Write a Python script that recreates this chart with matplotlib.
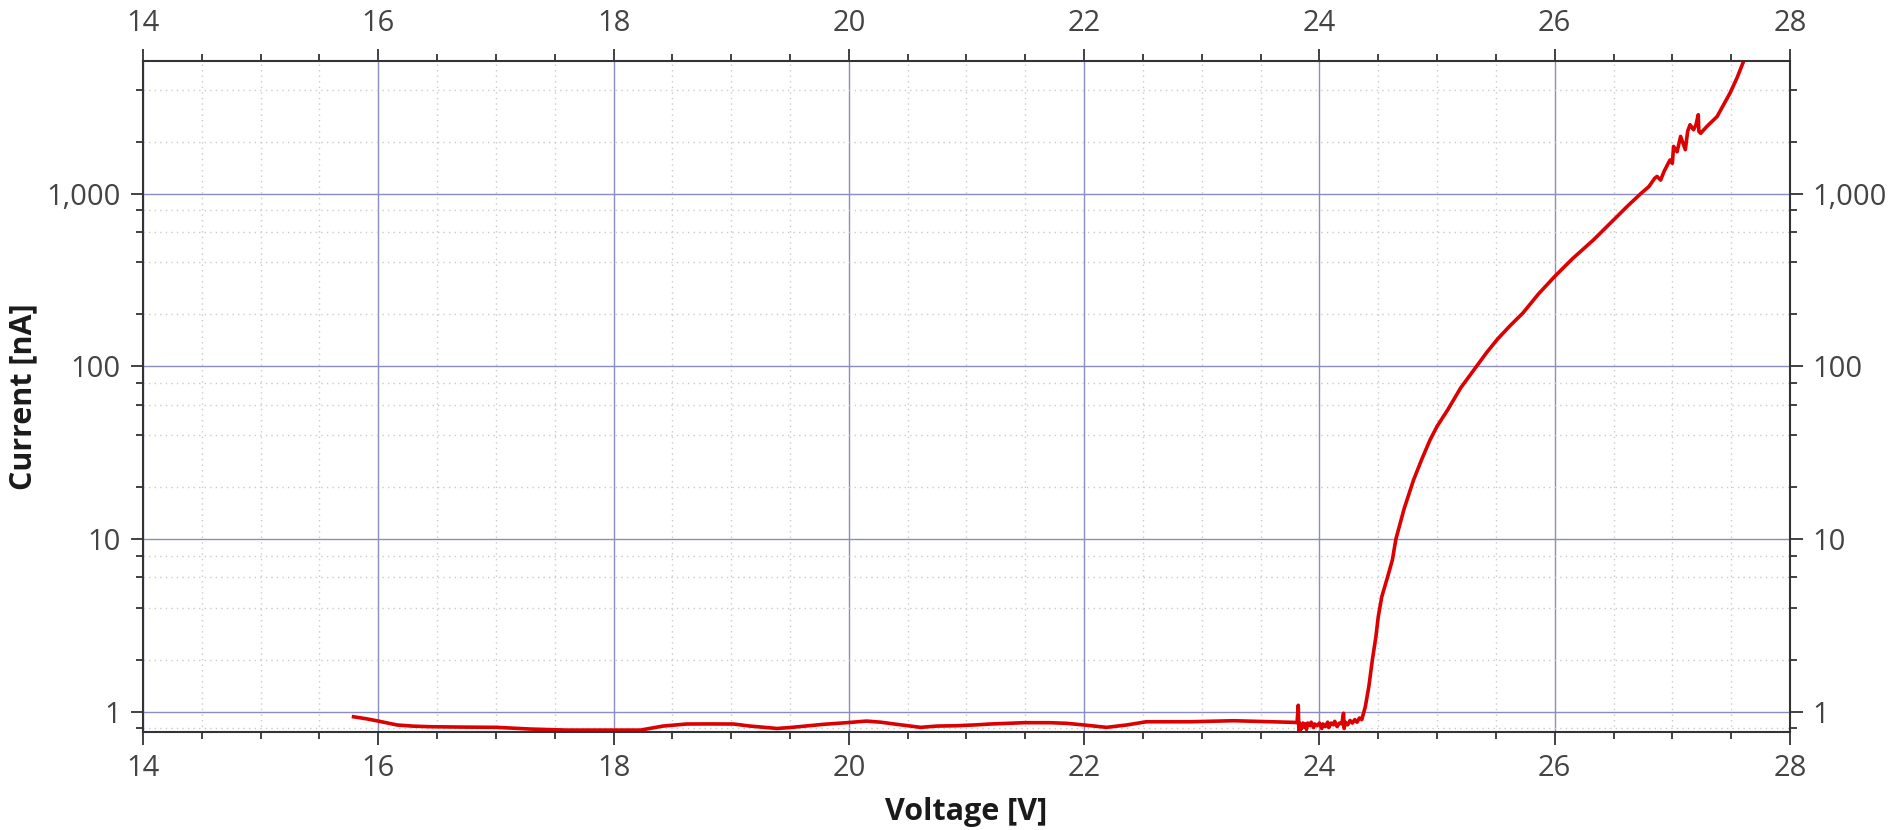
import numpy as np
import matplotlib
matplotlib.use('Agg')
import matplotlib.pyplot as plt
from matplotlib.ticker import MultipleLocator, LogLocator, FuncFormatter, NullFormatter

plt.rcParams['font.family'] = ['Open Sans', 'DejaVu Sans']

# flat leakage region
v_low = [15.79, 15.9, 16.0, 16.16, 16.3, 16.44, 16.7, 17.01, 17.29, 17.6, 18.0, 18.23,
         18.42, 18.62, 18.8, 19.02, 19.16, 19.39, 19.5, 19.78, 19.98, 20.15, 20.27, 20.41,
         20.61, 20.75, 20.92, 21.09, 21.2, 21.49, 21.71, 21.85, 22.0, 22.19, 22.36, 22.53,
         22.9, 23.27, 23.47, 23.78, 23.81]
i_low = [0.935, 0.91, 0.883, 0.838, 0.825, 0.819, 0.815, 0.812, 0.794, 0.783, 0.783, 0.783,
         0.826, 0.849, 0.85, 0.849, 0.826, 0.80, 0.81, 0.845, 0.864, 0.883, 0.87, 0.845,
         0.812, 0.826, 0.83, 0.84, 0.849, 0.864, 0.864, 0.857, 0.838, 0.812, 0.838, 0.875,
         0.875, 0.887, 0.88, 0.868, 0.865]

# noisy part just before breakdown
v_noise = [23.82, 23.825, 23.83, 23.835, 23.84, 23.85, 23.86, 23.87, 23.88, 23.89, 23.90,
           23.92, 23.93, 23.95, 23.96, 23.98, 24.0, 24.02, 24.03, 24.05, 24.07, 24.08, 24.10,
           24.12, 24.13, 24.15, 24.17, 24.19, 24.205, 24.21, 24.22, 24.24, 24.26, 24.28,
           24.30, 24.32, 24.34, 24.36]
i_noise = [1.09, 0.78, 0.86, 0.77, 0.84, 0.80, 0.86, 0.82, 0.85, 0.79, 0.86,
           0.83, 0.87, 0.81, 0.85, 0.83, 0.86, 0.80, 0.85, 0.82, 0.87, 0.81, 0.86,
           0.84, 0.88, 0.82, 0.86, 0.85, 0.98, 0.80, 0.87, 0.84, 0.89, 0.86,
           0.90, 0.87, 0.92, 0.90]

# breakdown
v_rise = [24.39, 24.42, 24.45, 24.48, 24.50, 24.53, 24.58, 24.62, 24.65, 24.72, 24.80,
          24.87, 24.94, 25.0, 25.09, 25.2, 25.33, 25.42, 25.51, 25.62, 25.73, 25.86, 26.0,
          26.15, 26.33, 26.5, 26.62, 26.73, 26.8, 26.85, 26.87, 26.9, 26.93, 26.98, 27.0,
          27.01, 27.04, 27.07, 27.11, 27.13, 27.15, 27.18, 27.2, 27.22, 27.225, 27.24,
          27.3, 27.38, 27.49, 27.55, 27.62]
i_rise = [1.07, 1.40, 2.0, 2.72, 3.55, 4.64, 6.05, 7.57, 10, 15, 22,
          29, 37.5, 45, 56, 75, 99, 120, 143, 172, 204, 262, 332,
          420, 541, 705, 850, 1000, 1100, 1230, 1260, 1200, 1350, 1570, 1500,
          1880, 1750, 2150, 1800, 2300, 2510, 2350, 2500, 2870, 2300, 2240,
          2480, 2800, 3830, 4700, 6200]

voltage = np.array(v_low + v_noise + v_rise)
current = np.array(i_low + i_noise + i_rise)

fig = plt.figure(figsize=(18.91, 8.30), dpi=100)
ax = fig.add_axes([0.0756, 0.1184, 0.8710, 0.8085])

ax.plot(voltage, current, color='#dc0000', lw=2.6, solid_joinstyle='round')

ax.set_yscale('log')
ax.set_xlim(14, 28)
ax.set_ylim(0.766, 5900)

ax.xaxis.set_major_locator(MultipleLocator(2))
ax.xaxis.set_minor_locator(MultipleLocator(0.5))
ax.yaxis.set_major_locator(LogLocator(base=10, subs=[1.0]))
ax.yaxis.set_minor_locator(LogLocator(base=10, subs=[2.0, 4.0, 6.0, 8.0]))
ax.yaxis.set_major_formatter(FuncFormatter(lambda v, p: '{:,.0f}'.format(v)))
ax.yaxis.set_minor_formatter(NullFormatter())

ax.grid(which='major', color='#8c8cc4', lw=1.0, ls='-')
ax.grid(which='minor', color='#cacaca', lw=1.0, ls=(0, (1, 3)))
ax.set_axisbelow(True)

ax.tick_params(which='both', direction='out', top=True, right=True,
               labeltop=True, labelright=True, colors='#333333',
               labelcolor='#444444', labelsize=21)
ax.tick_params(which='major', length=9, width=1.3, pad=7)
ax.tick_params(which='minor', length=5, width=1.3)
for s in ax.spines.values():
    s.set_color('#333333')
    s.set_linewidth(1.5)

ax.set_xlabel('Voltage [V]', fontsize=22, fontweight='bold', color='#1a1a1a', labelpad=10)
ax.set_ylabel('Current [nA]', fontsize=22, fontweight='bold', color='#1a1a1a', labelpad=6)

fig.savefig('out.png', dpi=100)
